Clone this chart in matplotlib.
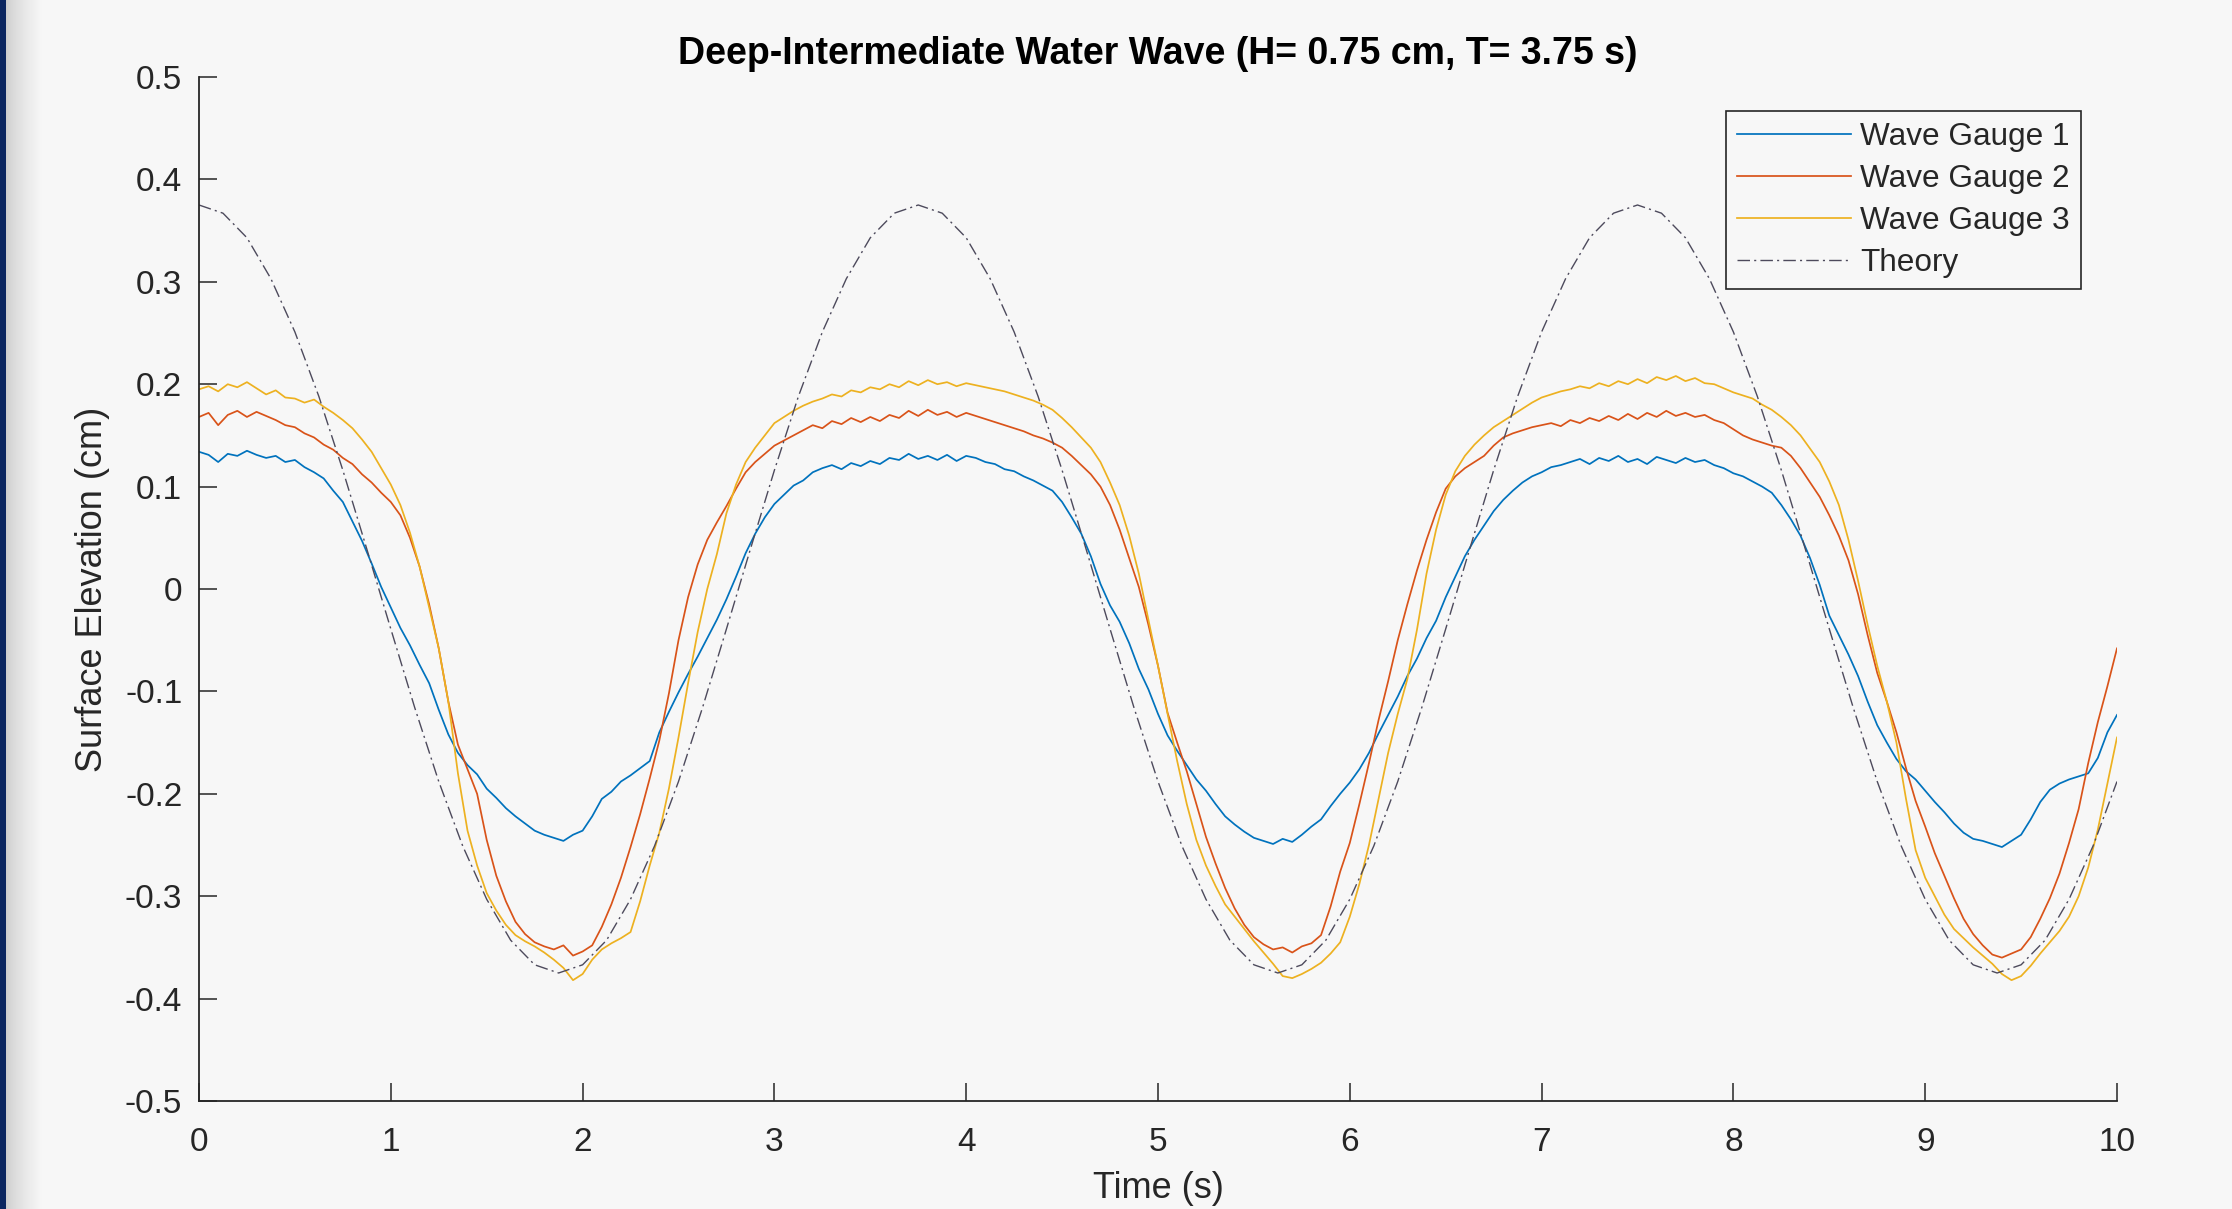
import numpy as np
import matplotlib
matplotlib.use("Agg")
import matplotlib.pyplot as plt
from matplotlib.patches import Rectangle

# ---------------- data ----------------
t_start, t_step = 0.0, 0.05          # gauge sampling
th_step = 0.125                      # theory sampling

gauge1 = [
    0.134, 0.131, 0.124, 0.132, 0.130, 0.135, 0.131, 0.128, 0.130, 0.124,
    0.126, 0.119, 0.114, 0.108, 0.096, 0.085, 0.066, 0.047, 0.025, 0.002,
    -0.018, -0.038, -0.055, -0.074, -0.092, -0.118, -0.142, -0.160, -0.172, -0.181,
    -0.195, -0.204, -0.214, -0.222, -0.229, -0.236, -0.240, -0.243, -0.246, -0.240,
    -0.236, -0.222, -0.205, -0.198, -0.188, -0.182, -0.175, -0.168, -0.140, -0.120,
    -0.101, -0.083, -0.066, -0.048, -0.030, -0.010, 0.012, 0.035, 0.054, 0.070,
    0.083, 0.092, 0.101, 0.106, 0.114, 0.118, 0.121, 0.117, 0.123, 0.120,
    0.125, 0.122, 0.128, 0.126, 0.132, 0.127, 0.130, 0.126, 0.131, 0.125,
    0.130, 0.128, 0.124, 0.122, 0.117, 0.115, 0.110, 0.106, 0.101, 0.096,
    0.085, 0.070, 0.054, 0.032, 0.005, -0.016, -0.032, -0.053, -0.078, -0.098,
    -0.122, -0.143, -0.158, -0.172, -0.186, -0.197, -0.210, -0.222, -0.230, -0.237,
    -0.243, -0.246, -0.249, -0.244, -0.247, -0.240, -0.232, -0.225, -0.212, -0.200,
    -0.189, -0.176, -0.160, -0.141, -0.123, -0.105, -0.085, -0.068, -0.048, -0.031,
    -0.008, 0.012, 0.032, 0.048, 0.062, 0.076, 0.087, 0.096, 0.104, 0.110,
    0.114, 0.119, 0.121, 0.124, 0.127, 0.122, 0.128, 0.125, 0.130, 0.124,
    0.127, 0.122, 0.129, 0.126, 0.123, 0.128, 0.124, 0.126, 0.121, 0.118,
    0.113, 0.110, 0.105, 0.100, 0.094, 0.082, 0.068, 0.052, 0.030, 0.004,
    -0.026, -0.045, -0.064, -0.085, -0.110, -0.133, -0.150, -0.166, -0.178, -0.186,
    -0.197, -0.208, -0.218, -0.229, -0.238, -0.244, -0.246, -0.249, -0.252, -0.246,
    -0.240, -0.225, -0.208, -0.196, -0.190, -0.186, -0.183, -0.180, -0.165, -0.140,
    -0.123,
]

gauge2 = [
    0.168, 0.172, 0.160, 0.170, 0.174, 0.168, 0.173, 0.169, 0.165, 0.160,
    0.158, 0.152, 0.148, 0.141, 0.136, 0.128, 0.122, 0.112, 0.104, 0.094,
    0.085, 0.072, 0.050, 0.022, -0.015, -0.058, -0.110, -0.152, -0.176, -0.200,
    -0.245, -0.280, -0.305, -0.325, -0.337, -0.345, -0.349, -0.352, -0.348, -0.358,
    -0.354, -0.348, -0.330, -0.308, -0.282, -0.252, -0.220, -0.185, -0.148, -0.102,
    -0.050, -0.008, 0.024, 0.048, 0.065, 0.081, 0.098, 0.114, 0.124, 0.132,
    0.140, 0.145, 0.150, 0.155, 0.160, 0.157, 0.164, 0.161, 0.167, 0.163,
    0.168, 0.164, 0.170, 0.167, 0.174, 0.169, 0.175, 0.170, 0.173, 0.168,
    0.172, 0.169, 0.166, 0.163, 0.160, 0.157, 0.154, 0.150, 0.147, 0.143,
    0.138, 0.130, 0.121, 0.112, 0.100, 0.082, 0.058, 0.030, 0.002, -0.035,
    -0.075, -0.121, -0.150, -0.178, -0.210, -0.242, -0.268, -0.292, -0.312, -0.328,
    -0.340, -0.347, -0.352, -0.350, -0.355, -0.349, -0.346, -0.338, -0.310, -0.276,
    -0.248, -0.210, -0.170, -0.128, -0.090, -0.050, -0.015, 0.018, 0.048, 0.075,
    0.098, 0.110, 0.118, 0.124, 0.130, 0.140, 0.148, 0.152, 0.155, 0.158,
    0.160, 0.162, 0.159, 0.165, 0.162, 0.167, 0.164, 0.169, 0.165, 0.171,
    0.166, 0.172, 0.168, 0.174, 0.169, 0.172, 0.168, 0.170, 0.165, 0.162,
    0.156, 0.150, 0.146, 0.143, 0.140, 0.138, 0.130, 0.118, 0.104, 0.090,
    0.072, 0.052, 0.028, -0.005, -0.045, -0.082, -0.110, -0.140, -0.175, -0.207,
    -0.232, -0.258, -0.280, -0.302, -0.322, -0.337, -0.348, -0.357, -0.360, -0.356,
    -0.352, -0.340, -0.322, -0.302, -0.278, -0.248, -0.215, -0.170, -0.130, -0.095,
    -0.058,
]

gauge3 = [
    0.195, 0.198, 0.193, 0.200, 0.197, 0.202, 0.196, 0.190, 0.194, 0.187,
    0.186, 0.182, 0.185, 0.178, 0.172, 0.165, 0.157, 0.146, 0.134, 0.118,
    0.102, 0.082, 0.055, 0.022, -0.018, -0.058, -0.110, -0.180, -0.236, -0.270,
    -0.297, -0.314, -0.328, -0.338, -0.344, -0.349, -0.355, -0.362, -0.370, -0.382,
    -0.376, -0.362, -0.352, -0.346, -0.341, -0.335, -0.305, -0.270, -0.238, -0.195,
    -0.145, -0.092, -0.042, 0.000, 0.034, 0.074, 0.102, 0.124, 0.138, 0.150,
    0.162, 0.168, 0.174, 0.179, 0.183, 0.186, 0.190, 0.188, 0.194, 0.192,
    0.197, 0.195, 0.200, 0.197, 0.203, 0.199, 0.204, 0.200, 0.202, 0.198,
    0.201, 0.199, 0.197, 0.195, 0.193, 0.190, 0.187, 0.184, 0.180, 0.175,
    0.167, 0.158, 0.148, 0.138, 0.124, 0.104, 0.082, 0.052, 0.015, -0.030,
    -0.075, -0.122, -0.168, -0.210, -0.245, -0.270, -0.290, -0.308, -0.320, -0.332,
    -0.344, -0.355, -0.366, -0.378, -0.380, -0.376, -0.371, -0.365, -0.356, -0.345,
    -0.320, -0.288, -0.250, -0.205, -0.160, -0.122, -0.088, -0.040, 0.015, 0.058,
    0.092, 0.115, 0.130, 0.141, 0.150, 0.158, 0.164, 0.170, 0.176, 0.182,
    0.187, 0.190, 0.193, 0.195, 0.198, 0.196, 0.201, 0.198, 0.203, 0.200,
    0.205, 0.201, 0.207, 0.204, 0.208, 0.203, 0.206, 0.201, 0.200, 0.196,
    0.192, 0.189, 0.186, 0.180, 0.175, 0.168, 0.160, 0.150, 0.137, 0.124,
    0.105, 0.082, 0.048, 0.008, -0.035, -0.075, -0.110, -0.150, -0.205, -0.255,
    -0.282, -0.300, -0.318, -0.332, -0.341, -0.350, -0.358, -0.366, -0.376, -0.382,
    -0.378, -0.368, -0.356, -0.345, -0.334, -0.320, -0.300, -0.272, -0.235, -0.190,
    -0.145,
]

theory = [
    0.375, 0.367, 0.343, 0.303, 0.251, 0.188, 0.116, 0.039, -0.039, -0.116,
    -0.188, -0.251, -0.303, -0.343, -0.367, -0.375, -0.367, -0.343, -0.303, -0.251,
    -0.188, -0.116, -0.039, 0.039, 0.116, 0.188, 0.251, 0.303, 0.343, 0.367,
    0.375, 0.367, 0.343, 0.303, 0.251, 0.188, 0.116, 0.039, -0.039, -0.116,
    -0.188, -0.251, -0.303, -0.343, -0.367, -0.375, -0.367, -0.343, -0.303, -0.251,
    -0.188, -0.116, -0.039, 0.039, 0.116, 0.188, 0.251, 0.303, 0.343, 0.367,
    0.375, 0.367, 0.343, 0.303, 0.251, 0.188, 0.116, 0.039, -0.039, -0.116,
    -0.188, -0.251, -0.303, -0.343, -0.367, -0.375, -0.367, -0.343, -0.303, -0.251,
    -0.188,
]

labels = ["Wave Gauge 1", "Wave Gauge 2", "Wave Gauge 3", "Theory"]
xticks = [0, 1, 2, 3, 4, 5, 6, 7, 8, 9, 10]
yticks = [-0.5, -0.4, -0.3, -0.2, -0.1, 0, 0.1, 0.2, 0.3, 0.4, 0.5]
ytick_labels = ["-0.5", "-0.4", "-0.3", "-0.2", "-0.1", "0", "0.1", "0.2", "0.3", "0.4", "0.5"]
title = "Deep-Intermediate Water Wave (H= 0.75 cm, T= 3.75 s)"
xlabel = "Time (s)"
ylabel = "Surface Elevation (cm)"

# ---------------- style ----------------
W, H = 2232, 1209
DPI = 100
BG = "#f7f7f7"
AXC = "#262626"
colors = ["#0072BD", "#D95319", "#EDB120", "#4d4a5c"]

plt.rcParams["font.family"] = ["Liberation Sans", "DejaVu Sans"]

fig = plt.figure(figsize=(W / DPI, H / DPI), dpi=DPI, facecolor=BG)

# left window border: navy strip + soft gray shadow
fig.patches.append(Rectangle((0, 0), 6 / W, 1, transform=fig.transFigure,
                             facecolor="#0b2660", edgecolor="none", zorder=0))
sh = fig.add_axes([6 / W, 0, 36 / W, 1], zorder=-1)
grad = np.linspace(0, 1, 64)[None, :, None]
c0 = np.array([0.80, 0.80, 0.80])
c1 = np.array([0.969, 0.969, 0.969])
sh.imshow(c0 + (c1 - c0) * grad ** 0.7, aspect="auto", extent=(0, 1, 0, 1))
sh.set_axis_off()

L, R, T, B = 199, 2117, 77, 1101
ax = fig.add_axes([L / W, 1 - B / H, (R - L) / W, (B - T) / H])
ax.set_facecolor(BG)

t_g = t_start + t_step * np.arange(len(gauge1))
t_th = t_start + th_step * np.arange(len(theory))

lw = 1.25
ax.plot(t_g, gauge1, color=colors[0], lw=lw, label=labels[0])
ax.plot(t_g, gauge2, color=colors[1], lw=lw, label=labels[1])
ax.plot(t_g, gauge3, color=colors[2], lw=lw, label=labels[2])
ax.plot(t_th, theory, color=colors[3], lw=1.0, linestyle=(0, (9, 3, 1.5, 3)),
        label=labels[3])

ax.set_xlim(0, 10)
ax.set_ylim(-0.5, 0.5)
ax.set_xticks(xticks)
ax.set_xticklabels([str(v) for v in xticks])
ax.set_yticks(yticks)
ax.set_yticklabels(ytick_labels)

for s in ["top", "right"]:
    ax.spines[s].set_visible(False)
for s in ["left", "bottom"]:
    ax.spines[s].set_color(AXC)
    ax.spines[s].set_linewidth(1.3)

ax.tick_params(axis="both", direction="in", length=13, width=1.1, colors=AXC,
               labelsize=24, labelcolor=AXC)
ax.tick_params(axis="x", pad=19)
ax.tick_params(axis="y", pad=12)

ax.set_title(title, fontsize=27, fontweight="bold", color="black", pad=9)
ax.set_xlabel(xlabel, fontsize=26, color=AXC, labelpad=9)
ax.set_ylabel(ylabel, fontsize=26, color=AXC, labelpad=11)

leg = ax.legend(loc="upper right",
                bbox_to_anchor=((2081 - L) / (R - L), (B - 111) / (B - T)),
                borderaxespad=0, fontsize=22.7, frameon=True, fancybox=False,
                handlelength=3.6, handletextpad=0.3, labelspacing=0.38,
                borderpad=0.35)
fr = leg.get_frame()
fr.set_edgecolor(AXC)
fr.set_linewidth(1.2)
fr.set_facecolor(BG)
fr.set_alpha(1)
for txt in leg.get_texts():
    txt.set_color(AXC)

fig.savefig("out.png", dpi=DPI, facecolor=BG)
